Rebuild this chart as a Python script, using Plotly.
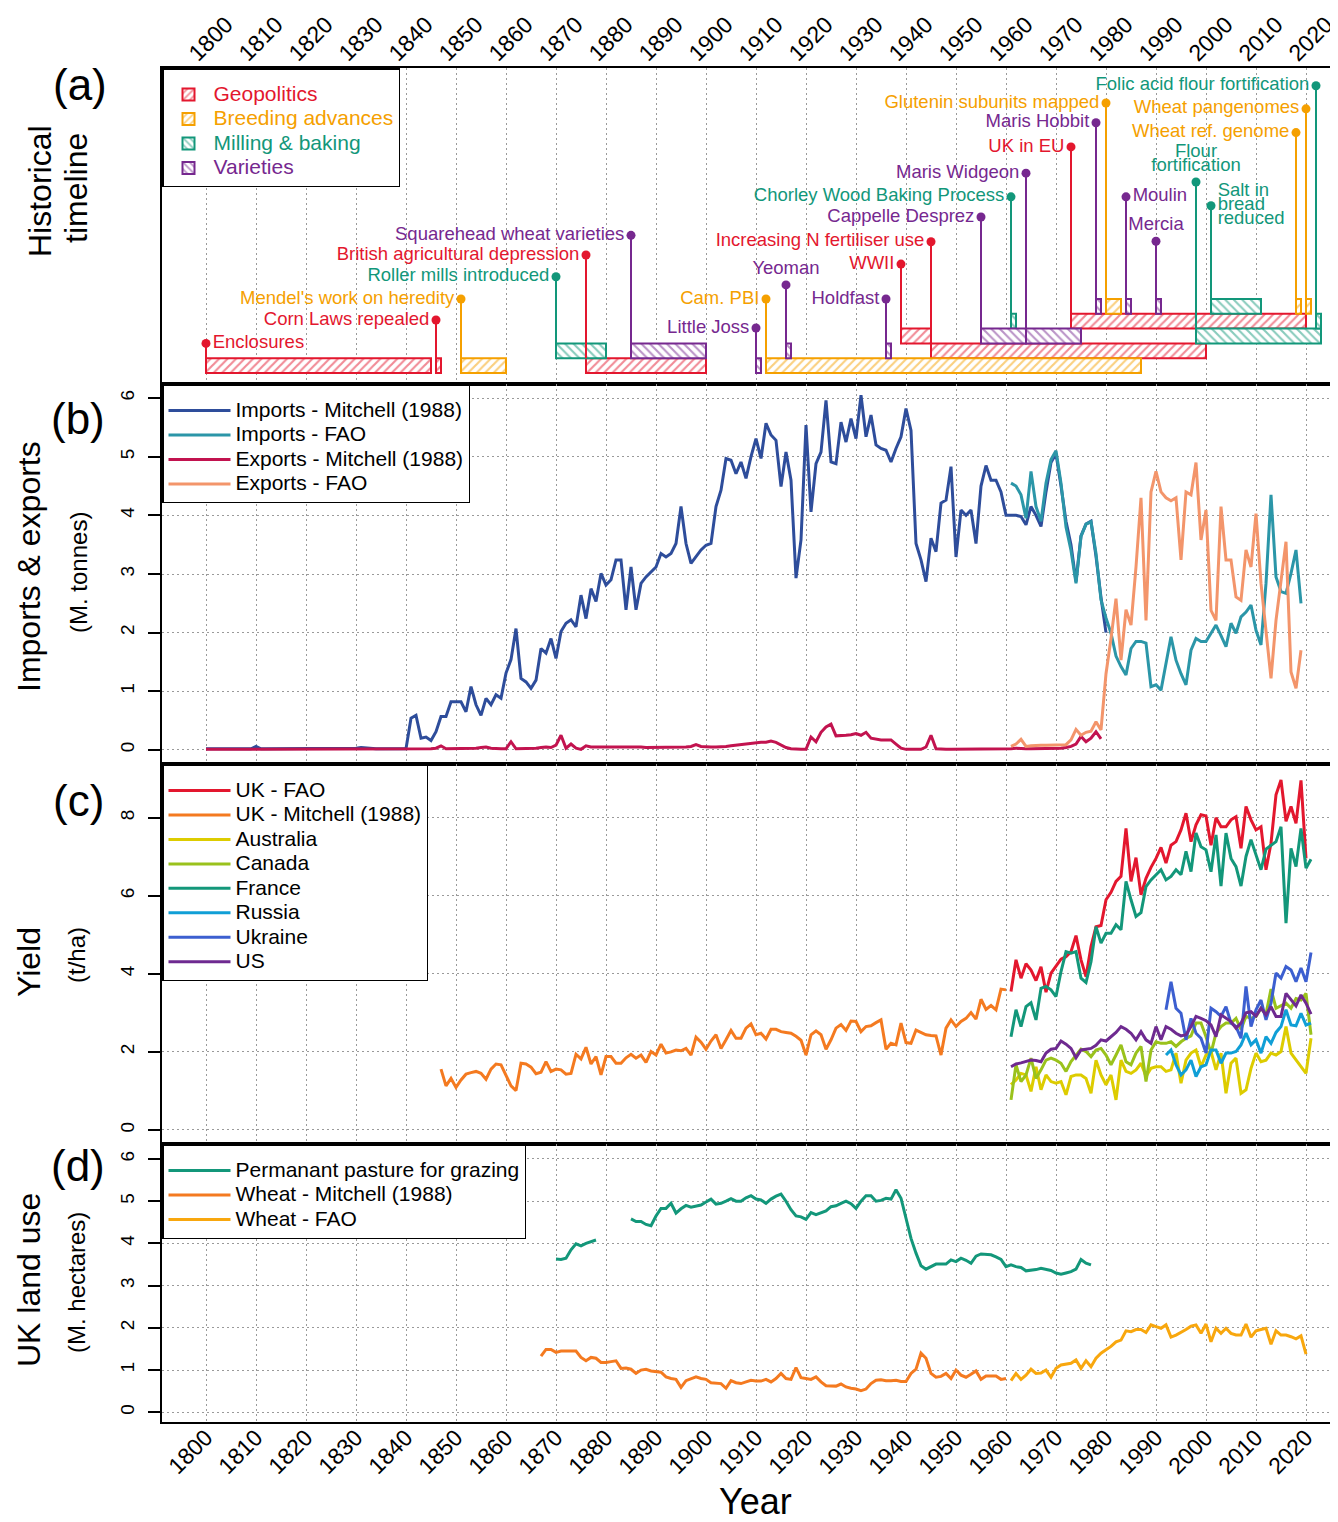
import plotly.graph_objects as go

FONT = "Liberation Sans, Arial, Helvetica, sans-serif"
# the page body has an 8 px margin, so the figure is drawn 8 px in from the window corner
BODY = 8
W, H = 1338 - BODY, 1522 - BODY
ML, MR, MT, MB = 162 - BODY, 0, 68 - BODY, 100
PW, PH = 1176, 1354


def yp(py):
    """window pixel row -> paper fraction"""
    return (1422 - py) / PH


def xp(px):
    """window pixel column -> paper fraction"""
    return (px - 162) / PW


XR = [1791.2, 2026.4]
A_RANGE = [-0.74, 20.6]
A_LS = 14.0 * (A_RANGE[1] - A_RANGE[0]) / (384 - 68)   # 14 px line spacing in row units

# ---------------- colours ----------------
C_GEO, C_BREED, C_MILL, C_VAR = "#E3172E", "#F5A000", "#12977A", "#76288F"

# ---------------- (a) timeline data ----------------
geo_names = ["Enclosures", "Corn Laws repealed", "British agricultural depression", "WWII",
             "Increasing N fertiliser use", "UK in EU"]
geo_start = [1800, 1846, 1876, 1939, 1945, 1973]
geo_end = [1845, 1847, 1900, 1945, 2000, 2020]
geo_row = [1, 1, 1, 3, 2, 4]
geo_level = [2.0, 3.58, 7.97, 7.36, 8.87, 15.27]
geo_pos = ["middle right", "middle left", "middle left", "middle left", "middle left", "middle left"]

breed_names = ["Mendel's work on heredity", "Cam. PBI", "Glutenin subunits mapped",
               "Wheat ref. genome", "Wheat pangenomes"]
breed_start = [1851, 1912, 1980, 2018, 2020]
breed_end = [1860, 1987, 1983, 2019, 2021]
breed_row = [1, 1, 5, 5, 5]
breed_level = [5.0, 5.0, 18.24, 16.24, 17.84]
breed_pos = ["middle left"] * 5

mill_names = ["Roller mills introduced", "Chorley Wood Baking Process", "Flour<br>fortification",
              "Salt in<br>bread<br>reduced", "Folic acid flour fortification"]
mill_start = [1870, 1961, 1998, 2001, 2022]
mill_end = [1880, 1962, 2023, 2011, 2023]
mill_row = [2, 4, 3, 5, 4]
mill_level = [6.5, 11.9, 12.9, 11.3, 19.4]
mill_pos = ["middle left", "middle left", "top center", "middle right", "middle left"]

var_names = ["Squarehead wheat varieties", "Little Joss", "Yeoman", "Holdfast", "Cappelle Desprez",
             "Maris Widgeon", "Maris Hobbit", "Moulin", "Mercia"]
var_start = [1885, 1910, 1916, 1936, 1955, 1964, 1978, 1984, 1990]
var_end = [1900, 1911, 1917, 1937, 1964, 1975, 1979, 1985, 1991]
var_row = [2, 1, 2, 2, 3, 3, 5, 5, 5]
var_level = [9.3, 3.04, 5.95, 5.0, 10.54, 13.5, 16.9, 11.9, 8.9]
var_pos = ["middle left", "middle left", "top center", "middle left", "middle left",
           "middle left", "middle left", "middle right", "top center"]

# ---------------- (b) imports / exports ----------------
imp_mitch_years = list(range(1800, 1981))
imp_mitch = [
    0.02, 0.02, 0.02, 0.02, 0.02, 0.02, 0.02, 0.02, 0.02, 0.02,
    0.06, 0.02, 0.02, 0.02, 0.02, 0.02, 0.02, 0.02, 0.02, 0.02,
    0.02, 0.02, 0.02, 0.02, 0.02, 0.02, 0.02, 0.02, 0.02, 0.02,
    0.03, 0.04, 0.03, 0.02, 0.02, 0.02, 0.02, 0.02, 0.02, 0.02,
    0.02, 0.54, 0.59, 0.20, 0.22, 0.16, 0.31, 0.57, 0.57, 0.82,
    0.82, 0.82, 0.65, 1.08, 0.77, 0.59, 0.88, 0.77, 0.94, 0.88,
    1.31, 1.54, 2.07, 1.22, 1.16, 1.05, 1.19, 1.73, 1.65, 1.90,
    1.56, 2.02, 2.16, 2.22, 2.10, 2.64, 2.24, 2.75, 2.53, 3.01,
    2.81, 2.90, 3.24, 3.24, 2.39, 3.12, 2.39, 2.84, 2.95, 3.04,
    3.12, 3.35, 3.29, 3.35, 3.52, 4.15, 3.52, 3.18, 3.29, 3.41,
    3.49, 3.52, 4.15, 4.43, 4.97, 4.94, 4.71, 4.91, 4.63, 5.00,
    5.31, 4.97, 5.57, 5.37, 5.28, 4.49, 5.08, 4.60, 2.93, 3.58,
    5.54, 4.06, 4.88, 5.08, 5.96, 4.91, 4.88, 5.59, 5.25, 5.65,
    5.31, 6.05, 5.34, 5.71, 5.20, 5.14, 5.11, 4.91, 5.14, 5.34,
    5.82, 5.45, 3.52, 3.24, 2.87, 3.61, 3.38, 4.21, 4.26, 4.83,
    3.29, 4.09, 4.00, 4.09, 3.52, 4.50, 4.85, 4.60, 4.60, 4.40,
    4.00, 4.00, 4.00, 3.98, 3.84, 4.15, 4.00, 3.81, 4.40, 4.90,
    5.05, 4.50, 3.90, 3.50, 2.87, 3.65, 3.85, 3.90, 3.30, 2.60,
    2.00]

imp_fao_years = list(range(1961, 2020))
imp_fao = [
    4.55, 4.50, 4.35, 3.95, 4.75, 4.15, 3.90, 4.55, 4.95,
    5.10, 4.55, 3.80, 3.40, 2.84, 3.64, 3.85, 3.89, 3.35, 2.56,
    2.25, 1.99, 1.60, 1.42, 1.28, 1.73, 1.85, 1.85, 1.82, 1.08,
    1.11, 1.02, 1.45, 1.93, 1.53, 1.30, 1.11, 1.70, 1.90, 1.85,
    1.85, 2.00, 2.13, 1.95, 1.76, 2.16, 1.99, 2.27, 2.35, 2.47,
    2.04, 1.79, 2.84, 4.35, 2.95, 2.70, 2.67, 3.01, 3.41, 2.50]

exp_mitch_years = list(range(1800, 1980))
exp_mitch = [0.01] * 40 + [
    0.01, 0.02, 0.02, 0.01, 0.02, 0.02, 0.03, 0.07, 0.02, 0.02,
    0.02, 0.02, 0.03, 0.03, 0.03, 0.04, 0.05, 0.03, 0.02, 0.02,
    0.02, 0.14, 0.02, 0.02, 0.02, 0.02, 0.03, 0.04, 0.05, 0.04,
    0.08, 0.25, 0.03, 0.10, 0.03, 0.01, 0.07, 0.05, 0.05, 0.06,
    0.06, 0.06, 0.05, 0.05, 0.05, 0.06, 0.05, 0.05, 0.04, 0.04,
    0.04, 0.05, 0.05, 0.05, 0.05, 0.05, 0.05, 0.06, 0.09, 0.06,
    0.05, 0.05, 0.05, 0.05, 0.06, 0.07, 0.08, 0.10, 0.11, 0.12,
    0.12, 0.13, 0.13, 0.15, 0.13, 0.08, 0.04, 0.02, 0.01, 0.01,
    0.01, 0.22, 0.14, 0.30, 0.39, 0.44, 0.24, 0.24, 0.25, 0.26,
    0.28, 0.25, 0.30, 0.20, 0.18, 0.17, 0.17, 0.17, 0.10, 0.03,
    0.01, 0.01, 0.01, 0.01, 0.05, 0.25, 0.02, 0.01, 0.01, 0.01,
    0.01, 0.01, 0.01, 0.01, 0.01, 0.01, 0.01, 0.01, 0.01, 0.01,
    0.01, 0.02, 0.03, 0.02, 0.02, 0.02, 0.02, 0.03, 0.03, 0.03,
    0.03, 0.03, 0.04, 0.06, 0.10, 0.23, 0.14, 0.20, 0.31, 0.19]

exp_fao_years = list(range(1961, 2020))
exp_fao = [
    0.06, 0.10, 0.18, 0.06, 0.07, 0.08, 0.08, 0.08, 0.08,
    0.09, 0.09, 0.09, 0.17, 0.35, 0.25, 0.30, 0.32, 0.48, 0.34,
    1.30, 1.90, 2.58, 1.53, 2.39, 2.13, 3.12, 4.30, 2.21, 4.40,
    4.75, 4.40, 4.30, 4.25, 4.30, 3.24, 4.40, 4.35, 4.90, 3.58,
    4.09, 2.38, 2.21, 4.15, 3.24, 3.24, 2.61, 2.55, 3.41, 3.12,
    4.03, 2.84, 2.00, 1.22, 2.21, 2.90, 3.55, 1.33, 1.05, 1.70]

# ---------------- (c) yields ----------------
uk_mitch_years = list(range(1847, 1961))
uk_mitch = [
    1.56, 1.13, 1.32,
    1.09, 1.28, 1.43, 1.47, 1.50, 1.45, 1.30, 1.56, 1.69, 1.67,
    1.41, 1.13, 1.01, 1.71, 1.69, 1.61, 1.44, 1.48, 1.75, 1.50,
    1.56, 1.54, 1.43, 1.45, 1.94, 1.82, 2.12, 1.69, 1.88, 1.41,
    1.88, 1.88, 1.71, 1.71, 1.85, 1.94, 1.84, 1.92, 1.73, 2.01,
    1.92, 2.20, 1.97, 2.00, 2.05, 2.03, 2.09, 1.92, 2.38, 2.25,
    2.07, 2.28, 2.44, 2.09, 2.31, 2.55, 2.35, 2.35, 2.61, 2.72,
    2.44, 2.48, 2.33, 2.58, 2.58, 2.52, 2.50, 2.48, 2.40, 2.30,
    1.92, 2.44, 2.54, 2.44, 2.07, 2.31, 2.61, 2.70, 2.55, 2.79,
    2.78, 2.52, 2.65, 2.67, 2.75, 2.82, 2.07, 2.22, 2.18, 2.74,
    2.24, 2.22, 2.56, 2.50, 2.44, 2.42, 2.41, 1.92, 2.61, 2.82,
    2.65, 2.78, 2.86, 3.01, 2.84, 3.35, 3.09, 3.19, 3.08, 3.61,
    3.59]

uk_fao_years = list(range(1961, 2021))
uk_fao = [
    3.55, 4.36, 3.89, 4.26, 4.10, 3.83, 4.18, 3.53, 4.02, 4.21,
    4.38, 4.44, 4.57, 4.98, 4.36, 3.93, 4.70, 5.21, 5.24, 5.90,
    6.09, 6.37, 6.50, 7.73, 6.37, 6.98, 6.03, 6.45, 6.73, 6.96,
    7.24, 6.84, 7.30, 7.39, 7.69, 8.12, 7.39, 7.82, 8.08, 8.05,
    7.30, 8.00, 7.77, 7.77, 7.95, 8.03, 7.22, 8.29, 7.95, 7.69,
    7.77, 6.67, 7.35, 8.59, 8.97, 7.91, 8.29, 7.86, 8.96, 6.96]

fao61_years = list(range(1961, 2022))
france = [
    2.39, 3.08, 2.65, 3.16, 3.26, 2.82, 3.63, 3.68, 3.59, 3.42,
    4.06, 4.57, 4.53, 4.57, 3.89, 3.78, 4.31, 5.21, 4.79, 5.04,
    5.04, 5.26, 5.13, 6.37, 5.90, 5.47, 5.57, 6.24, 6.41, 6.54,
    6.67, 6.41, 6.50, 6.67, 6.54, 7.14, 6.62, 7.61, 7.26, 7.18,
    6.62, 7.56, 6.25, 7.61, 6.96, 6.75, 6.25, 7.01, 7.44, 7.05,
    6.67, 7.20, 7.30, 7.39, 7.77, 5.30, 7.22, 6.75, 7.73, 6.71,
    6.94]
us = [
    1.62, 1.69, 1.72, 1.75, 1.79, 1.78, 1.75, 1.97, 2.07, 2.09,
    2.28, 2.20, 2.09, 1.85, 2.05, 2.07, 2.09, 2.17, 2.31, 2.28,
    2.39, 2.50, 2.65, 2.58, 2.48, 2.31, 2.52, 2.31, 2.22, 2.65,
    2.31, 2.65, 2.58, 2.48, 2.41, 2.44, 2.65, 2.91, 2.86, 2.80,
    2.69, 2.39, 2.95, 2.86, 2.78, 2.61, 2.74, 3.00, 3.03, 2.92,
    3.12, 2.95, 3.16, 2.91, 2.91, 3.50, 3.35, 3.18, 3.46, 3.25,
    2.97]
canada = [
    0.77, 1.67, 1.24, 1.41, 1.84, 1.32, 1.54, 1.79, 1.84, 1.79,
    1.71, 1.50, 1.75, 1.92, 2.07, 2.01, 1.88, 2.05, 2.09, 1.92,
    1.67, 1.92, 2.18, 1.75, 1.67, 1.97, 2.14, 1.24, 2.05, 2.26,
    2.22, 2.22, 2.26, 2.14, 2.26, 2.35, 2.41, 2.74, 2.74, 2.39,
    1.97, 2.48, 2.65, 2.74, 2.74, 2.86, 2.58, 2.91, 2.86, 2.91,
    3.12, 2.97, 3.61, 3.12, 3.18, 3.25, 3.12, 3.37, 3.33, 3.50,
    2.44]
australia = [
    1.16, 1.28, 1.45, 1.41, 0.99, 1.62, 1.03, 1.41, 1.24, 1.20,
    1.24, 0.90, 1.37, 1.41, 1.41, 1.32, 0.94, 1.79, 1.41, 1.16,
    1.41, 0.77, 1.79, 1.50, 1.45, 1.54, 1.71, 1.37, 1.58, 1.62,
    1.62, 1.50, 1.54, 1.97, 1.20, 1.79, 1.97, 2.05, 1.62, 1.92,
    2.01, 1.54, 1.97, 0.94, 1.71, 1.84, 0.94, 1.03, 1.58, 1.97,
    1.75, 1.79, 1.97, 1.92, 2.01, 2.65, 1.97, 1.79, 1.62, 1.45,
    2.35]
fao92_years = list(range(1992, 2022))
ukraine = [
    3.08, 3.80, 3.12, 2.99, 2.31, 2.86, 2.48, 2.35, 1.97, 3.12,
    3.03, 2.91, 3.16, 2.74, 2.65, 2.35, 3.68, 2.65, 3.08, 3.33,
    2.82, 3.25, 4.02, 3.89, 4.19, 4.10, 3.80, 4.15, 3.80, 4.55]
russia = [
    1.92, 2.05, 1.67, 1.41, 1.54, 1.79, 1.37, 1.62, 1.67, 2.05,
    2.05, 1.71, 1.97, 1.97, 2.01, 2.18, 2.48, 2.18, 2.31, 1.97,
    2.39, 2.22, 2.50, 2.65, 3.08, 2.69, 2.67, 2.99, 2.69, 2.74]

# ---------------- (d) land use ----------------
pasture_years = list(range(1870, 1978))
pasture = [
    3.63, 3.62, 3.65, 3.85, 3.99, 3.94, 4.00, 4.04, 4.08,
    None, None, None, None, None, None,
    4.58, 4.52, 4.52, 4.45, 4.42,
    4.65, 4.83, 4.83, 4.95, 4.72, 4.82, 4.90, 4.86, 4.88, 4.91,
    4.98, 5.05, 4.93, 4.95, 5.00, 5.06, 5.00, 5.00, 5.08, 5.13,
    5.05, 5.03, 4.95, 5.05, 5.12, 5.17, 5.00, 4.80, 4.65, 4.63,
    4.57, 4.73, 4.68, 4.72, 4.77, 4.87, 4.89, 4.95, 5.00, 4.94,
    4.83, 5.00, 5.13, 5.13, 5.00, 5.02, 5.07, 5.05, 5.27, 5.07,
    4.60, 4.12, 3.77, 3.47, 3.39, 3.45, 3.51, 3.51, 3.51, 3.61,
    3.57, 3.65, 3.60, 3.53, 3.70, 3.75, 3.74, 3.73, 3.68, 3.62,
    3.45, 3.49, 3.45, 3.43, 3.35, 3.36, 3.38, 3.41, 3.39, 3.36,
    3.30, 3.27, 3.30, 3.33, 3.39, 3.62, 3.53, 3.49]

wheat_mitch_years = list(range(1867, 1961))
wheat_mitch = [
    1.33, 1.49, 1.49,
    1.42, 1.45, 1.45, 1.45, 1.45, 1.30, 1.22, 1.30, 1.28, 1.18,
    1.18, 1.20, 1.22, 1.04, 1.05, 1.02, 0.92, 1.00, 1.02, 0.98,
    0.97, 0.95, 0.84, 0.80, 0.78, 0.59, 0.75, 0.80, 0.84, 0.80,
    0.78, 0.70, 0.69, 0.68, 0.57, 0.75, 0.70, 0.68, 0.72, 0.76,
    0.74, 0.74, 0.78, 0.72, 0.80, 0.92, 0.80, 0.78, 1.06, 0.82,
    0.80, 0.78, 0.84, 0.72, 0.63, 0.63, 0.62, 0.67, 0.60, 0.57,
    0.55, 0.51, 0.55, 0.68, 0.76, 0.77, 0.75, 0.75, 0.76, 0.73,
    0.73, 0.92, 1.02, 1.40, 1.28, 0.92, 0.83, 0.85, 0.92, 0.80,
    1.00, 0.88, 0.83, 0.90, 0.98, 0.78, 0.86, 0.86, 0.86, 0.78,
    0.80]

wheat_fao_years = list(range(1961, 2021))
wheat_fao = [
    0.75, 0.92, 0.78, 0.88, 1.02, 0.92, 0.93, 1.00, 0.83, 1.04,
    1.12, 1.14, 1.16, 1.24, 1.04, 1.22, 1.08, 1.28, 1.40, 1.48,
    1.56, 1.67, 1.71, 1.93, 1.91, 1.96, 1.96, 1.89, 2.07, 2.03,
    1.99, 2.07, 1.78, 1.83, 1.89, 1.96, 2.04, 2.07, 1.87, 2.09,
    1.67, 1.99, 1.87, 1.99, 1.87, 1.83, 1.83, 2.09, 1.78, 1.93,
    1.96, 1.99, 1.61, 1.93, 1.83, 1.83, 1.79, 1.74, 1.81, 1.38]

for a, b in [(imp_mitch_years, imp_mitch), (imp_fao_years, imp_fao), (exp_mitch_years, exp_mitch),
             (exp_fao_years, exp_fao), (uk_mitch_years, uk_mitch), (uk_fao_years, uk_fao),
             (fao61_years, france), (fao61_years, us), (fao61_years, canada), (fao61_years, australia),
             (fao92_years, ukraine), (fao92_years, russia), (pasture_years, pasture),
             (wheat_mitch_years, wheat_mitch), (wheat_fao_years, wheat_fao)]:
    assert len(a) == len(b), (len(a), len(b))

fig = go.Figure()

LEG_FS = 21       # visible legend text size
LEG_ROW = 16.5    # font size that sets the legend row pitch


def legname(txt, col="black"):
    return '<span style="font-size:%dpx;color:%s">%s</span>' % (LEG_FS, col, txt)


# ---------------- (a) timeline traces ----------------
cats = [
    ("Geopolitics", C_GEO, "/", geo_names, geo_start, geo_end, geo_row, geo_level, geo_pos),
    ("Breeding advances", C_BREED, "/", breed_names, breed_start, breed_end, breed_row, breed_level, breed_pos),
    ("Milling & baking", C_MILL, "\\", mill_names, mill_start, mill_end, mill_row, mill_level, mill_pos),
    ("Varieties", C_VAR, "\\", var_names, var_start, var_end, var_row, var_level, var_pos),
]
TL_FS = 18.5
for name, col, shp, names, st, en, row, lev, pos in cats:
    fig.add_trace(go.Bar(
        orientation="h", base=st, x=[e - s for s, e in zip(st, en)], y=[r - 0.5 for r in row],
        width=1.0, xaxis="x", yaxis="y",
        marker=dict(color="white", line=dict(color=col, width=2),
                    pattern=dict(shape=shp, fgcolor=col, bgcolor="white", size=6, solidity=0.36)),
        name=legname(name, col), legend="legend", hoverinfo="skip"))
for name, col, shp, names, st, en, row, lev, pos in cats:
    sx, sy = [], []
    for s, r, l in zip(st, row, lev):
        sx += [s, s, None]
        sy += [r, l, None]
    fig.add_trace(go.Scatter(x=sx, y=sy, mode="lines", line=dict(color=col, width=2),
                             xaxis="x", yaxis="y", showlegend=False, hoverinfo="skip"))
    fig.add_trace(go.Scatter(x=st, y=lev, mode="markers", marker=dict(color=col, size=9),
                             xaxis="x", yaxis="y", showlegend=False, hoverinfo="skip", cliponaxis=False))
    # labels, one text line per point so that multi-line labels keep tight spacing
    tx, ty, tt, tp = [], [], [], []
    for s, l, nm, p in zip(st, lev, names, pos):
        lines = nm.split("<br>")
        n = len(lines)
        for i, ln in enumerate(lines):
            if p.startswith("top"):
                off = (n - 1 - i) * A_LS
            else:
                off = ((n - 1) / 2.0 - i) * A_LS
            tx.append(s)
            ty.append(l + off)
            tt.append(ln)
            tp.append(p)
    fig.add_trace(go.Scatter(x=tx, y=ty, mode="markers+text", text=tt, textposition=tp,
                             marker=dict(color=col, size=9, opacity=0),
                             textfont=dict(color=col, size=TL_FS, family=FONT),
                             xaxis="x", yaxis="y", showlegend=False, hoverinfo="skip", cliponaxis=False))

# ---------------- (b) ----------------
LW = 3
for xs, ys, nm, col in [(imp_mitch_years, imp_mitch, "Imports - Mitchell (1988)", "#2E4D9B"),
                        (imp_fao_years, imp_fao, "Imports - FAO", "#2B96A8"),
                        (exp_mitch_years, exp_mitch, "Exports - Mitchell (1988)", "#C2134F"),
                        (exp_fao_years, exp_fao, "Exports - FAO", "#F3956B")]:
    fig.add_trace(go.Scatter(x=xs, y=ys, mode="lines", name=legname(nm), line=dict(color=col, width=LW),
                             xaxis="x2", yaxis="y2", legend="legend2"))

# ---------------- (c) ----------------
for xs, ys, nm, col in [(uk_fao_years, uk_fao, "UK - FAO", "#E3172E"),
                        (uk_mitch_years, uk_mitch, "UK - Mitchell (1988)", "#F47A20"),
                        (fao61_years, australia, "Australia", "#DDCC00"),
                        (fao61_years, canada, "Canada", "#9AC21C"),
                        (fao61_years, france, "France", "#13977A"),
                        (fao92_years, russia, "Russia", "#109FD6"),
                        (fao92_years, ukraine, "Ukraine", "#3C5FD0"),
                        (fao61_years, us, "US", "#6E2A90")]:
    fig.add_trace(go.Scatter(x=xs, y=ys, mode="lines", name=legname(nm), line=dict(color=col, width=LW),
                             xaxis="x3", yaxis="y3", legend="legend3"))

# ---------------- (d) ----------------
for xs, ys, nm, col in [(pasture_years, pasture, "Permanant pasture for grazing", "#13977A"),
                        (wheat_mitch_years, wheat_mitch, "Wheat - Mitchell (1988)", "#F47A20"),
                        (wheat_fao_years, wheat_fao, "Wheat - FAO", "#F8A70E")]:
    fig.add_trace(go.Scatter(x=xs, y=ys, mode="lines", name=legname(nm), line=dict(color=col, width=LW),
                             connectgaps=False, xaxis="x4", yaxis="y4", legend="legend4"))

# ---------------- layout ----------------
GRID = dict(showgrid=True, gridcolor="#9a9a9a", gridwidth=1.3, griddash="2px,3px")
FRAME = dict(showline=True, mirror=True, linecolor="black", linewidth=2, zeroline=False, automargin=False)
XTICKF = dict(size=23, family=FONT, color="black")
YTICKF = dict(size=19, family=FONT, color="black")

xbase = dict(range=XR, tick0=1800, dtick=10, tickmode="linear", ticklabeloverflow="allow", **GRID, **FRAME)
ybase = dict(ticks="outside", ticklen=12, tickwidth=1.5, tickcolor="black", tickangle=-90,
             tickfont=YTICKF, ticklabelstandoff=6, **GRID, **FRAME)

dom_a = [yp(384), 1.0]
dom_b = [yp(764), yp(384)]
dom_c = [yp(1144), yp(764)]
dom_d = [0.0, yp(1144)]

fig.update_layout(
    width=W, height=H, margin=dict(l=ML, r=MR, t=MT, b=MB, autoexpand=False),
    plot_bgcolor="white", paper_bgcolor="white", barmode="overlay",
    font=dict(family=FONT, size=17, color="black"),
    xaxis=dict(anchor="y", side="top", ticks="", tickangle=-45, tickfont=XTICKF,
               ticklabelstandoff=-9, ticklabelshift=-16, **xbase),
    xaxis2=dict(anchor="y2", matches="x", showticklabels=False, ticks="", **xbase),
    xaxis3=dict(anchor="y3", matches="x", showticklabels=False, ticks="", **xbase),
    xaxis4=dict(anchor="y4", matches="x", side="bottom", ticks="", tickangle=-45, tickfont=XTICKF,
                ticklabelstandoff=-9, **xbase),
    yaxis=dict(domain=dom_a, anchor="x", range=A_RANGE, showticklabels=False, ticks="",
               showgrid=False, **FRAME),
    yaxis2=dict(domain=dom_b, anchor="x2", range=[-0.24, 6.24], tickvals=[0, 1, 2, 3, 4, 5, 6], **ybase),
    yaxis3=dict(domain=dom_c, anchor="x3", range=[-0.36, 9.38], tickvals=[0, 2, 4, 6, 8], **ybase),
    yaxis4=dict(domain=dom_d, anchor="x4", range=[-0.23, 6.355], tickvals=[0, 1, 2, 3, 4, 5, 6], **ybase),
)

LEG = dict(x=0, xanchor="left", yanchor="top", bgcolor="white", bordercolor="black", borderwidth=1.5,
           tracegroupgap=0, font=dict(size=LEG_ROW, family=FONT, color="black"),
           title=dict(text=" ", font=dict(size=6)))
fig.update_layout(
    legend=dict(y=1.0, itemwidth=40, **LEG),
    legend2=dict(y=yp(384), itemwidth=62, **LEG),
    legend3=dict(y=yp(764), itemwidth=62, **LEG),
    legend4=dict(y=yp(1144), itemwidth=62, **LEG),
)

annots = [
    ("(a)", 80, 85, 44, 0), ("(b)", 78, 418, 44, 0), ("(c)", 78, 800, 44, 0), ("(d)", 78, 1165, 44, 0),
    ("Historical", 40, 191, 32, -90), ("timeline", 76, 188, 32, -90),
    ("Imports & exports", 29, 567, 32, -90), ("(M. tonnes)", 78, 573, 24, -90),
    ("Yield", 29, 962, 32, -90), ("(t/ha)", 76, 955, 24, -90),
    ("UK land use", 29, 1280, 32, -90), ("(M. hectares)", 76, 1283, 24, -90),
    ("Year", 755, 1501, 36, 0),
]
for txt, px, py, size, ang in annots:
    fig.add_annotation(text=txt, x=xp(px), y=yp(py), xref="paper", yref="paper", showarrow=False,
                       xanchor="center", yanchor="middle", textangle=ang,
                       font=dict(size=size, family=FONT, color="black"))

fig.write_html("out.html")
